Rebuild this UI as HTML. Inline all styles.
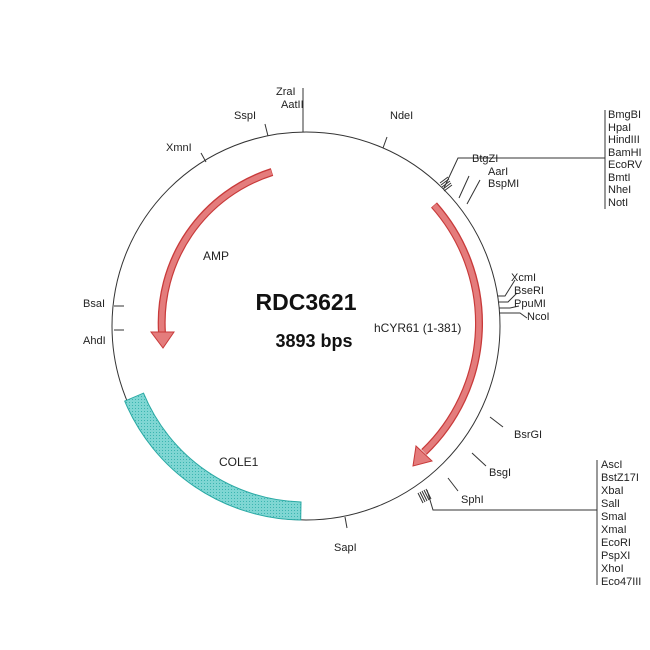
<!DOCTYPE html><html><head><style>body{margin:0;background:#fff}svg{display:block}text{font-family:"Liberation Sans",sans-serif;font-size:11px;fill:#222}</style></head><body>
<svg width="650" height="650" viewBox="0 0 650 650">
<defs><pattern id="dp" width="3" height="3" patternUnits="userSpaceOnUse"><rect width="3" height="3" fill="#7fd6d3"/><rect width="1" height="1" fill="#3bb5b0"/></pattern></defs>
<circle cx="306" cy="326" r="194" fill="none" stroke="#333" stroke-width="1"/>
<path d="M143.5,393.1 A176,176 0 0 0 301,502 L300.7,520 A194,194 0 0 1 124.7,401.1 Z" fill="url(#dp)" stroke="#2aa9a4" stroke-width="1"/>
<!-- AMP arrow -->
<path d="M272,172 A158,158 0 0 0 162,333" fill="none" stroke="#c83a3a" stroke-width="8"/>
<path d="M271.5,172.3 A158,158 0 0 0 162,333" fill="none" stroke="#e47c7c" stroke-width="5.5"/>
<polygon points="151,332 174,332 163,348" fill="#e47c7c" stroke="#c83a3a" stroke-width="1"/>
<!-- right arrow -->
<path d="M434,205 A178,178 0 0 1 424,452" fill="none" stroke="#c83a3a" stroke-width="8"/>
<path d="M434.3,205.5 A178,178 0 0 1 424,452" fill="none" stroke="#e47c7c" stroke-width="5.5"/>
<polygon points="416,446 432,461 413,466" fill="#e47c7c" stroke="#c83a3a" stroke-width="1"/>
<g stroke="#333" stroke-width="1" fill="none">
<path d="M303,132 V88"/><path d="M268,136 L265,124"/><path d="M383,148 L387,137"/><path d="M206,162 L201,153"/>
<path d="M444,188 L458,158 H605 M605,110 V209"/>
<path d="M459,198 L469,176 M467,204 L480,180"/>
<path d="M498,296 L505,296 L515,280 M499,302 L508,302 L517,293 M499,308 L510,308 L519,306 M499,313 L520,313 L527,318"/>
<path d="M490,417 L503,427"/><path d="M472,453 L486,466"/><path d="M448,478 L458,491"/>
<path d="M427,490 L433,510 H597 M597,460 V585"/>
<path d="M345,517 L347,528"/><path d="M114,306 L124,306"/><path d="M114,330 L124,330"/>
<path d="M440,183 L448,177 M441,185 L449,179 M442,187 L450,181 M443,189 L451,183 M444,191 L452,185"/>
<path d="M418,493 L423,503 M420,492 L425,502 M422,491 L427,501 M424,490 L429,500 M426,489 L431,499"/>
</g>
<text x="276" y="95">ZraI</text><text x="281" y="108">AatII</text>
<text x="234" y="119">SspI</text><text x="390" y="119">NdeI</text><text x="166" y="151">XmnI</text>
<text x="472" y="162">BtgZI</text><text x="488" y="175">AarI</text><text x="488" y="187">BspMI</text>
<g><text x="608" y="118">BmgBI</text><text x="608" y="131">HpaI</text><text x="608" y="143">HindIII</text><text x="608" y="156">BamHI</text><text x="608" y="168">EcoRV</text><text x="608" y="181">BmtI</text><text x="608" y="193">NheI</text><text x="608" y="206">NotI</text></g>
<text x="511" y="281">XcmI</text><text x="514" y="294">BseRI</text><text x="514" y="307">PpuMI</text><text x="527" y="320">NcoI</text>
<text x="514" y="438">BsrGI</text><text x="489" y="476">BsgI</text><text x="461" y="503">SphI</text>
<g><text x="601" y="468">AscI</text><text x="601" y="481">BstZ17I</text><text x="601" y="494">XbaI</text><text x="601" y="507">SalI</text><text x="601" y="520">SmaI</text><text x="601" y="533">XmaI</text><text x="601" y="546">EcoRI</text><text x="601" y="559">PspXI</text><text x="601" y="572">XhoI</text><text x="601" y="585">Eco47III</text></g>
<text x="334" y="551">SapI</text><text x="83" y="307">BsaI</text><text x="83" y="344">AhdI</text>
<text x="203" y="260" style="font-size:12px">AMP</text><text x="219" y="466" style="font-size:12px">COLE1</text>
<text x="374" y="332" style="font-size:12px">hCYR61 (1-381)</text>
<text x="306" y="310" text-anchor="middle" style="font-size:23px;font-weight:bold;fill:#111">RDC3621</text>
<text x="314" y="347" text-anchor="middle" style="font-size:18px;font-weight:bold;fill:#111">3893 bps</text>
</svg></body></html>
